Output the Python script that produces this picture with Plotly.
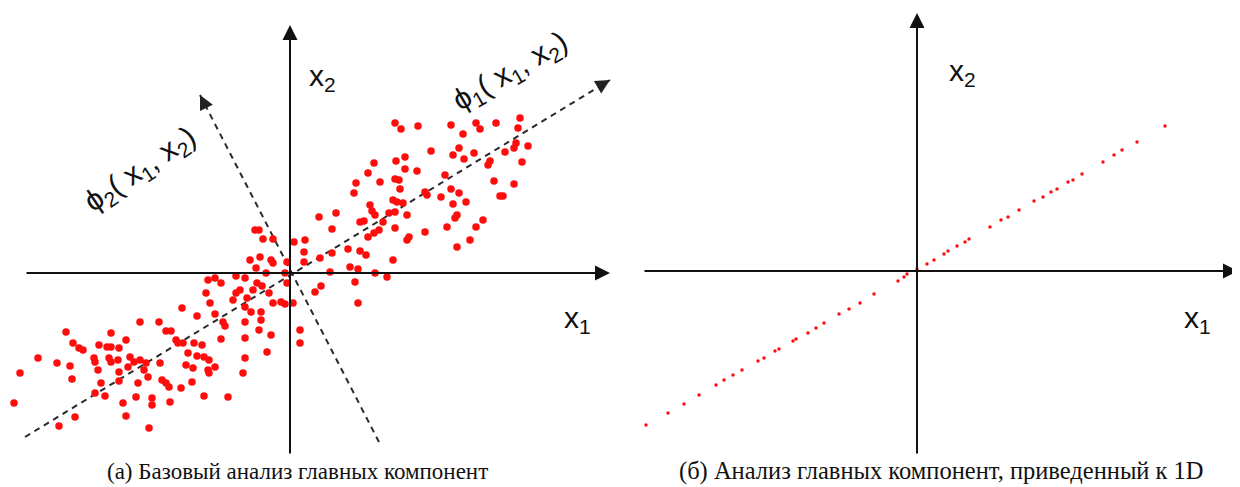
import plotly.graph_objects as go

# ---------------- data (left panel: raw 2-D points, offsets from origin) ----------------
raw_x1 = [105, 111, 128, 161, 186, 190, 206, 230, 228, 173, 226, 238, 224, 169, 184, 163, 141, 115, 106, 174,
          200, 215, 232, 198, 84, 115, 127, 78, 155, 105, 109, 90, 66, 110, 161, 204, 224, 135, 137, 169,
          151, 210, 213, 64, 80, 103, 107, 113, 176, 163, 82, 85, 74, 70, 105, 99, 117, 167, 165, 193,
          93, 89, 84, 105, 157, 186, 119, 117, 135, 180, 167, 78, 46, 29, 42, 15, 4, 14, 30, 42,
          58, 70, 76, 60, 68, 14, 103, 85, 97, 40, 65, 68, 31, 25,
          -35, -31, -27, -17, -40, -30, -19, -17, -3, -34, -24, -5, -3, -82, -75, -69, -54, -45, -33, -28,
          -37, -84, -54, -50, -21, -57, -43, -80, -17, -9, -5, 3, -45, -39, -29, -75, -93, -108, -67, -65,
          -45, -29, -31, -19, -45, -69, -23, -45, -47, -62, -86, 10, 10,
          -150, -131, -124, -119, -114, -112, -107, -96, -88, -224, -179, -164, -217, -211, -207, -191, -183, -179, -171, -252,
          -233, -220, -196, -195, -181, -179, -172, -160, -156, -150, -144, -130, -102, -93, -86, -81, -75, -82, -97, -104,
          -270, -192, -171, -162, -146, -218, -189, -171, -142, -128, -124, -98, -81, -195, -185, -152, -121, -109, -276, -167,
          -154, -138, -138, -120, -164, -215, -231, -141]
raw_x2 = [150, 144, 147, 148, 150, 144, 150, 155, 145, 139, 130, 127, 125, 125, 120, 118, 122, 116, 112, 114,
          112, 121, 111, 108, 110, 104, 102, 100, 98, 94, 93, 91, 90, 84, 84, 92, 89, 81, 78, 80,
          76, 77, 77, 80, 68, 73, 71, 70, 71, 69, 62, 58, 52, 51, 61, 60, 58, 58, 55, 53,
          51, 43, 40, 45, 46, 46, 36, 33, 41, 33, 26, 36, 60, 56, 44, 33, 31, 21, 15, 20,
          24, 22, 18, 6, 4, 11, 13, 0, -4, 1, -9, -30, -13, -19,
          43, 43, 34, 34, 13, 16, 13, 10, 11, 5, 0, 0, -10, -7, -5, -10, -3, -5, -10, -13,
          -17, -20, -20, -17, -20, -27, -25, -30, -30, -29, -31, -30, -34, -39, -39, -41, -43, -35, -49, -53,
          -49, -47, -57, -62, -65, -66, -79, -85, -100, -124, -123, -57, -70,
          -49, -49, -58, -58, -67, -70, -70, -70, -72, -59, -60, -67, -70, -75, -77, -72, -74, -74, -75, -85,
          -90, -93, -85, -89, -85, -89, -87, -84, -89, -87, -90, -90, -80, -83, -84, -87, -94, -97, -95, -92,
          -100, -97, -99, -94, -97, -106, -110, -108, -104, -107, -110, -109, -100, -120, -123, -110, -114, -115, -130, -130,
          -124, -125, -132, -129, -143, -144, -153, -155]

# right panel: points projected to 1-D (lie along the first principal component)
proj_x1 = [-271, -249, -233, -218, -201, -193, -184, -175, -159, -153, -142, -138, -124, -121, -109, -101, -93, -78,
           -68, -57, -43, -19, -13, -10, 0, 10, 17, 27, 31, 40, 48, 52, 73, 84, 91, 102, 117, 126, 134, 140,
           151, 156, 165, 186, 197, 205, 220, 248]
proj_x2 = [-154, -142, -133, -124, -114, -109, -104, -99, -90, -87, -80, -78, -70, -68, -62, -57, -52, -43,
           -38, -32, -23, -10, -6, -3, 2, 7, 11, 17, 20, 25, 29, 32, 44, 51, 54, 61, 70, 74, 79, 82,
           89, 91, 97, 109, 116, 121, 129, 145]

# principal-component direction lines (left panel)
pc1_x = [-265, 320]
pc1_y = [-164, 193]
pc2_x = [89, -90]
pc2_y = [-169, 178]

caption_a = "(а) Базовый анализ главных компонент"
caption_b = "(б) Анализ главных компонент, приведенный к 1D"

RED = "#ff0d0d"
INK = "#111111"

# the page body has an 8px margin; figure is sized to fill the rest of the window
W, H, OFF = 1232, 479, 8

fig = go.Figure()

fig.add_trace(go.Scatter(x=pc1_x, y=pc1_y, mode="lines", xaxis="x", yaxis="y",
                         line=dict(color="#2a2a2a", width=2, dash="6px,5px"), hoverinfo="skip"))
fig.add_trace(go.Scatter(x=pc2_x, y=pc2_y, mode="lines", xaxis="x", yaxis="y",
                         line=dict(color="#2a2a2a", width=2, dash="6px,5px"), hoverinfo="skip"))
fig.add_trace(go.Scatter(x=raw_x1, y=raw_x2, mode="markers", xaxis="x", yaxis="y",
                         marker=dict(color=RED, size=7.5, line=dict(width=0)), cliponaxis=False))
fig.add_trace(go.Scatter(x=proj_x1, y=proj_x2, mode="markers", xaxis="x2", yaxis="y2",
                         marker=dict(color=RED, size=3.5, line=dict(width=0)), cliponaxis=False))

ann = []


def arrow(xr, yr, x0, y0, x1, y1, width=2, size=1.5, color=INK):
    ann.append(dict(xref=xr, yref=yr, axref=xr, ayref=yr, x=x1, y=y1, ax=x0, ay=y0,
                    text="", showarrow=True, arrowhead=2, arrowsize=size, arrowwidth=width,
                    arrowcolor=color, standoff=0, startstandoff=0))


# coordinate axes (left)
arrow("x", "y", -265, 0, 320, 0)
arrow("x", "y", 0, -182, 0, 248)
# arrow heads of principal directions
arrow("x", "y", 308, 186, 320, 193, width=1.8, size=1.6, color="#222222")
arrow("x", "y", -84, 166, -90, 178, width=1.8, size=1.6, color="#222222")
# coordinate axes (right)
arrow("x2", "y2", -274, 0, 321, 0)
arrow("x2", "y2", 0, -184, 0, 258)

LBL = dict(family="Liberation Sans, Arial, sans-serif", size=30, color=INK)


def label(xr, yr, x, y, text, angle=0, size=30):
    ann.append(dict(xref=xr, yref=yr, x=x, y=y, text=text, showarrow=False, textangle=angle,
                    font=dict(LBL, size=size), xanchor="center", yanchor="middle"))


label("x", "y", 32, 196, "x<sub>2</sub>")
label("x", "y", 287, -46, "x<sub>1</sub>")
label("x", "y", 220, 201, "ϕ<sub>1</sub>( x<sub>1</sub>, x<sub>2</sub>)", angle=-30, size=30)
label("x", "y", -150, 103, "ϕ<sub>2</sub>( x<sub>1</sub>, x<sub>2</sub>)", angle=-34, size=30)
label("x2", "y2", 45, 199, "x<sub>2</sub>")
label("x2", "y2", 280, -48, "x<sub>1</sub>")

CAP = dict(family="Liberation Serif, Times New Roman, serif", size=23, color=INK)
ann.append(dict(xref="paper", yref="paper", x=(297 - OFF) / W, y=1 - (471 - OFF) / H, text=caption_a,
                showarrow=False, font=CAP, xanchor="center", yanchor="middle"))
ann.append(dict(xref="paper", yref="paper", x=(941 - OFF) / W, y=1 - (471 - OFF) / H, text=caption_b,
                showarrow=False, font=dict(CAP, size=24.5), xanchor="center", yanchor="middle"))

hidden = dict(visible=False, showgrid=False, zeroline=False, fixedrange=True)
split = (620 - OFF) / W
fig.update_layout(
    width=W, height=H,
    margin=dict(l=0, r=0, t=0, b=0),
    paper_bgcolor="white", plot_bgcolor="white",
    showlegend=False,
    xaxis=dict(hidden, domain=[0, split], range=[OFF - 290, 620 - 290]),
    yaxis=dict(hidden, domain=[0, 1], range=[273 - 487, 273 - OFF]),
    xaxis2=dict(hidden, domain=[split, 1], range=[620 - 917, 1240 - 917], anchor="y2"),
    yaxis2=dict(hidden, domain=[0, 1], range=[271 - 487, 271 - OFF], anchor="x2"),
    annotations=ann,
)

fig.write_html("out.html")
